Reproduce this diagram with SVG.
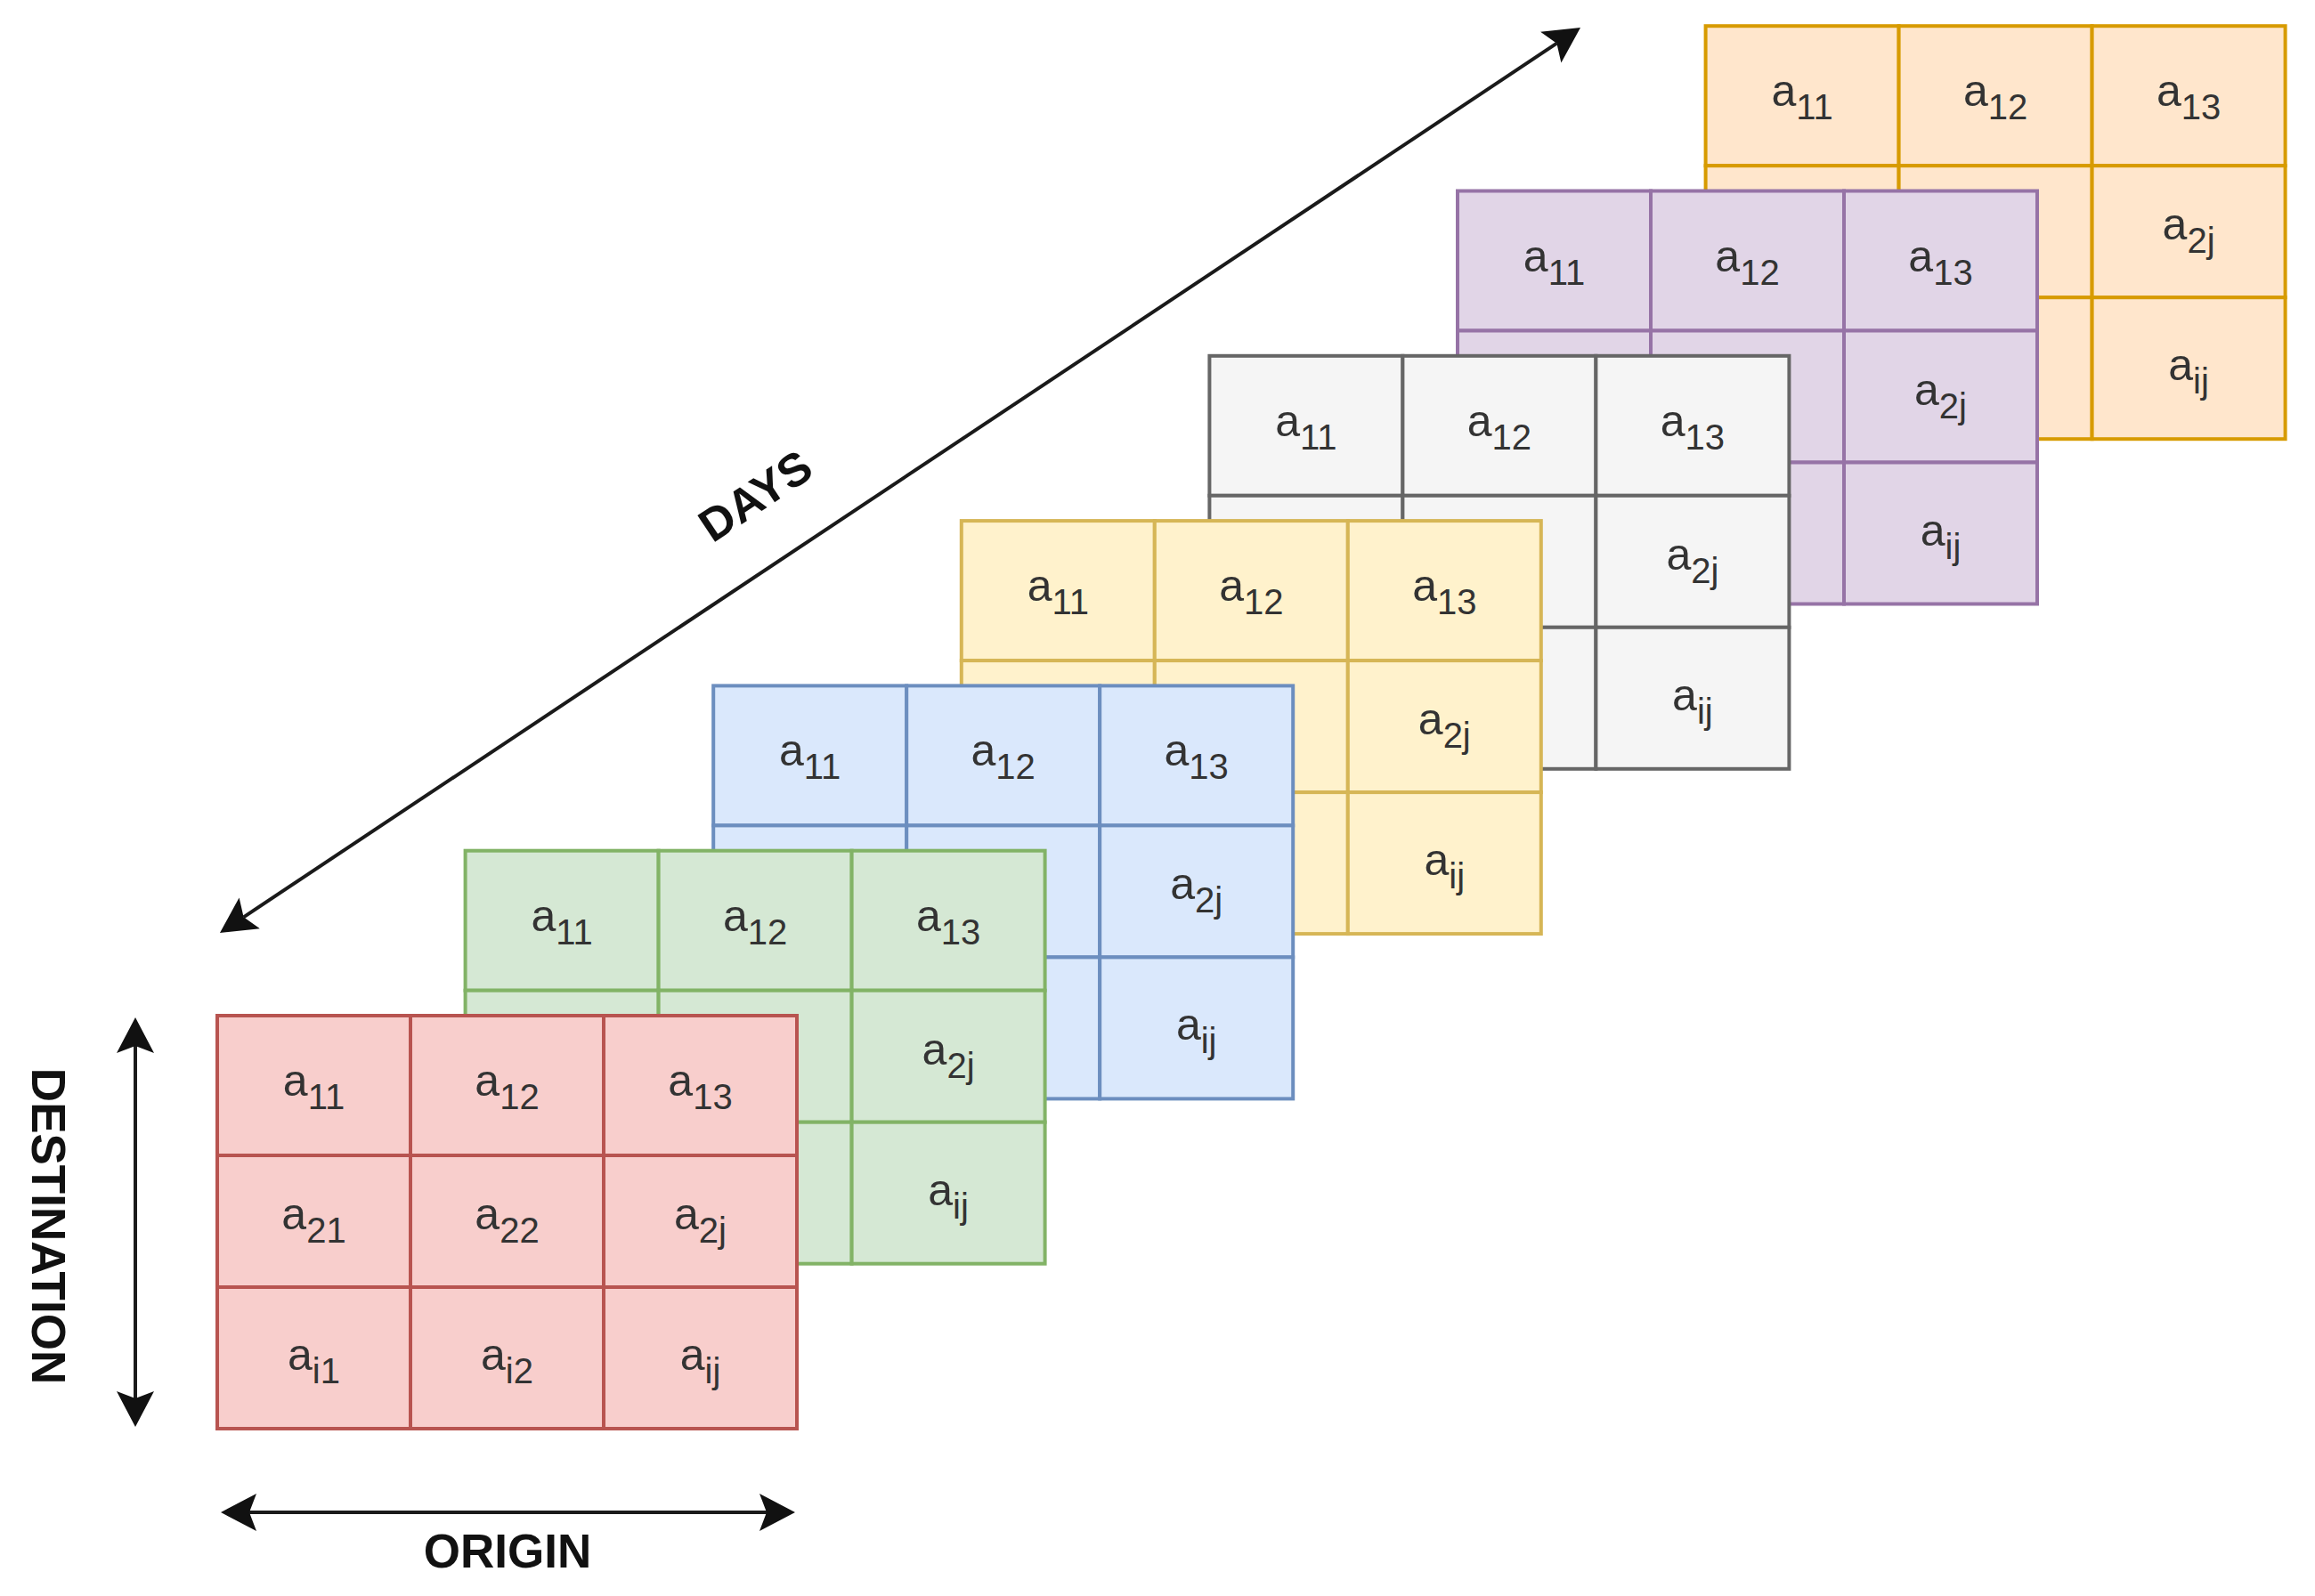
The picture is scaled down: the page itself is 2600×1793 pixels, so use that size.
<svg xmlns="http://www.w3.org/2000/svg" xmlns:xlink="http://www.w3.org/1999/xlink" width="2600" height="1793" viewBox="0 0 2600 1793">
<style>
.m { stroke-width: 4; }
.m text { font-family: "Liberation Sans", Arial, Helvetica, sans-serif; font-size: 50px; fill: #333333; stroke: none; text-anchor: middle; }
.m text tspan { font-size: 40px; }
.red { fill: #f8cecc; stroke: #b85450; }
.green { fill: #d5e8d4; stroke: #82b366; }
.blue { fill: #dae8fc; stroke: #6c8ebf; }
.yellow { fill: #fff2cc; stroke: #d6b656; }
.gray { fill: #f5f5f5; stroke: #666666; }
.purple { fill: #e1d5e7; stroke: #9673a6; }
.orange { fill: #ffe6cc; stroke: #d79b00; }
.axis { fill: none; stroke: #1a1a1a; stroke-width: 4; marker-start: url(#ah); marker-end: url(#ah); }
.lbl { font-family: "Liberation Sans", Arial, Helvetica, sans-serif; font-weight: bold; fill: #111111; text-anchor: middle; }
</style>
<defs>
<marker id="ah" viewBox="0 -22 42 44" refX="8" refY="0" markerWidth="42" markerHeight="44" markerUnits="userSpaceOnUse" orient="auto-start-reverse">
<path d="M0,-21 L40,0 L0,21 L8,0 Z" fill="#111111" stroke="none"/>
</marker>
<g id="grid">
<rect x="0" y="0" width="217" height="157"/>
<rect x="217" y="0" width="217" height="157"/>
<rect x="434" y="0" width="217" height="157"/>
<rect x="0" y="157" width="217" height="148"/>
<rect x="217" y="157" width="217" height="148"/>
<rect x="434" y="157" width="217" height="148"/>
<rect x="0" y="305" width="217" height="159"/>
<rect x="217" y="305" width="217" height="159"/>
<rect x="434" y="305" width="217" height="159"/>
</g>
</defs>
<rect x="0" y="0" width="2600" height="1793" fill="#ffffff"/>

<g id="day7" class="m orange" transform="translate(1915.6,29.2)">
<use xlink:href="#grid" href="#grid"/>
<text x="108.5" y="90">a<tspan dy="15">11</tspan></text>
<text x="325.5" y="90">a<tspan dy="15">12</tspan></text>
<text x="542.5" y="90">a<tspan dy="15">13</tspan></text>
<text x="542.5" y="240">a<tspan dy="15">2j</tspan></text>
<text x="542.5" y="398">a<tspan dy="15">ij</tspan></text>
</g>

<g id="day6" class="m purple" transform="translate(1637,214.5)">
<use xlink:href="#grid" href="#grid"/>
<text x="108.5" y="90">a<tspan dy="15">11</tspan></text>
<text x="325.5" y="90">a<tspan dy="15">12</tspan></text>
<text x="542.5" y="90">a<tspan dy="15">13</tspan></text>
<text x="542.5" y="240">a<tspan dy="15">2j</tspan></text>
<text x="542.5" y="398">a<tspan dy="15">ij</tspan></text>
</g>

<g id="day5" class="m gray" transform="translate(1358.4,399.8)">
<use xlink:href="#grid" href="#grid"/>
<text x="108.5" y="90">a<tspan dy="15">11</tspan></text>
<text x="325.5" y="90">a<tspan dy="15">12</tspan></text>
<text x="542.5" y="90">a<tspan dy="15">13</tspan></text>
<text x="542.5" y="240">a<tspan dy="15">2j</tspan></text>
<text x="542.5" y="398">a<tspan dy="15">ij</tspan></text>
</g>

<g id="day4" class="m yellow" transform="translate(1079.8,585.1)">
<use xlink:href="#grid" href="#grid"/>
<text x="108.5" y="90">a<tspan dy="15">11</tspan></text>
<text x="325.5" y="90">a<tspan dy="15">12</tspan></text>
<text x="542.5" y="90">a<tspan dy="15">13</tspan></text>
<text x="542.5" y="240">a<tspan dy="15">2j</tspan></text>
<text x="542.5" y="398">a<tspan dy="15">ij</tspan></text>
</g>

<g id="day3" class="m blue" transform="translate(801.2,770.4)">
<use xlink:href="#grid" href="#grid"/>
<text x="108.5" y="90">a<tspan dy="15">11</tspan></text>
<text x="325.5" y="90">a<tspan dy="15">12</tspan></text>
<text x="542.5" y="90">a<tspan dy="15">13</tspan></text>
<text x="542.5" y="240">a<tspan dy="15">2j</tspan></text>
<text x="542.5" y="398">a<tspan dy="15">ij</tspan></text>
</g>

<g id="day2" class="m green" transform="translate(522.6,955.7)">
<use xlink:href="#grid" href="#grid"/>
<text x="108.5" y="90">a<tspan dy="15">11</tspan></text>
<text x="325.5" y="90">a<tspan dy="15">12</tspan></text>
<text x="542.5" y="90">a<tspan dy="15">13</tspan></text>
<text x="542.5" y="240">a<tspan dy="15">2j</tspan></text>
<text x="542.5" y="398">a<tspan dy="15">ij</tspan></text>
</g>

<g id="day1" class="m red" transform="translate(244,1141)">
<use xlink:href="#grid" href="#grid"/>
<text x="108.5" y="90">a<tspan dy="15">11</tspan></text>
<text x="325.5" y="90">a<tspan dy="15">12</tspan></text>
<text x="542.5" y="90">a<tspan dy="15">13</tspan></text>
<text x="108.5" y="240">a<tspan dy="15">21</tspan></text>
<text x="325.5" y="240">a<tspan dy="15">22</tspan></text>
<text x="542.5" y="240">a<tspan dy="15">2j</tspan></text>
<text x="108.5" y="398">a<tspan dy="15">i1</tspan></text>
<text x="325.5" y="398">a<tspan dy="15">i2</tspan></text>
<text x="542.5" y="398">a<tspan dy="15">ij</tspan></text>
</g>

<g id="connectors">
<line id="days-axis" class="axis" x1="273.6" y1="1030.3" x2="1748.4" y2="48.7"/>
<line id="destination-axis" class="axis" x1="152" y1="1175" x2="152" y2="1571"/>
<line id="origin-axis" class="axis" x1="280" y1="1699" x2="861" y2="1699"/>
</g>

<g id="labels">
<text class="lbl" font-size="52" transform="translate(848,556.5) rotate(-33.65)" x="0" y="18.6">DAYS</text>
<text class="lbl" font-size="53" transform="translate(55,1377.5) rotate(90)" x="0" y="19">DESTINATION</text>
<text class="lbl" font-size="53" x="570" y="1761">ORIGIN</text>
</g>
</svg>
